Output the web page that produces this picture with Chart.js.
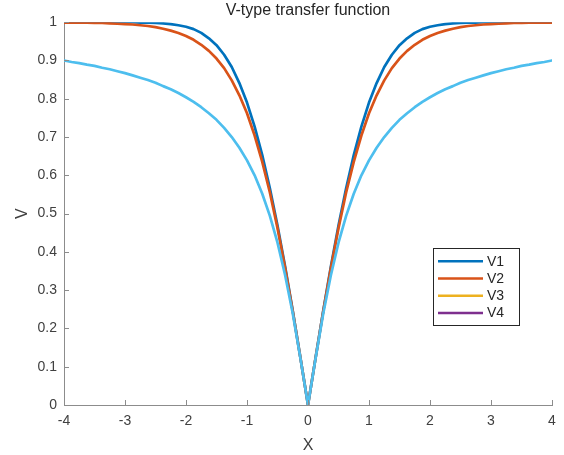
<!DOCTYPE html>
<html>
<head>
<meta charset="utf-8">
<script src="https://cdn.jsdelivr.net/npm/chart.js@4"></script>
<style>
  html, body { margin: 0; padding: 0; background: #fff; }
</style>
</head>
<body>
<canvas id="chartCanvas" width="564" height="455"></canvas>
<script>
// x positions, -4 .. 4 step 0.125
const xValues = [-4, -3.875, -3.75, -3.625, -3.5, -3.375, -3.25, -3.125, -3, -2.875, -2.75, -2.625, -2.5, -2.375, -2.25, -2.125,
  -2, -1.875, -1.75, -1.625, -1.5, -1.375, -1.25, -1.125, -1, -0.875, -0.75, -0.625, -0.5, -0.375, -0.25, -0.125,
  0, 0.125, 0.25, 0.375, 0.5, 0.625, 0.75, 0.875, 1, 1.125, 1.25, 1.375, 1.5, 1.625, 1.75, 1.875,
  2, 2.125, 2.25, 2.375, 2.5, 2.625, 2.75, 2.875, 3, 3.125, 3.25, 3.375, 3.5, 3.625, 3.75, 3.875, 4];

const v1Values = [1, 1, 1, 1, 1, 1, 1, 1, 1, 1, 0.999, 0.999, 0.998, 0.997, 0.995, 0.992,
  0.988, 0.982, 0.972, 0.958, 0.940, 0.915, 0.883, 0.841, 0.790, 0.727, 0.653, 0.566, 0.469, 0.362, 0.246, 0.124,
  0, 0.124, 0.246, 0.362, 0.469, 0.566, 0.653, 0.727, 0.790, 0.841, 0.883, 0.915, 0.940, 0.958, 0.972, 0.982,
  0.988, 0.992, 0.995, 0.997, 0.998, 0.999, 0.999, 1, 1, 1, 1, 1, 1, 1, 1, 1, 1];

const v2Values = [0.999, 0.999, 0.999, 0.999, 0.998, 0.998, 0.997, 0.996, 0.995, 0.994, 0.992, 0.990, 0.987, 0.983, 0.978, 0.972,
  0.964, 0.954, 0.941, 0.925, 0.905, 0.880, 0.848, 0.809, 0.762, 0.704, 0.635, 0.555, 0.462, 0.358, 0.245, 0.124,
  0, 0.124, 0.245, 0.358, 0.462, 0.555, 0.635, 0.704, 0.762, 0.809, 0.848, 0.880, 0.905, 0.925, 0.941, 0.954,
  0.964, 0.972, 0.978, 0.983, 0.987, 0.990, 0.992, 0.994, 0.995, 0.996, 0.997, 0.998, 0.998, 0.999, 0.999, 0.999, 0.999];

// light blue curve (not in the legend)
const lightValues = [0.900, 0.896, 0.893, 0.889, 0.886, 0.881, 0.877, 0.872, 0.867, 0.861, 0.855, 0.849, 0.842, 0.833, 0.825, 0.815,
  0.804, 0.792, 0.778, 0.762, 0.745, 0.724, 0.700, 0.672, 0.639, 0.600, 0.552, 0.494, 0.424, 0.339, 0.239, 0.123,
  0, 0.123, 0.239, 0.339, 0.424, 0.494, 0.552, 0.600, 0.639, 0.672, 0.700, 0.724, 0.745, 0.762, 0.778, 0.792,
  0.804, 0.815, 0.825, 0.833, 0.842, 0.849, 0.855, 0.861, 0.867, 0.872, 0.877, 0.881, 0.886, 0.889, 0.893, 0.896, 0.900];

const xTicks = [-4, -3, -2, -1, 0, 1, 2, 3, 4];
const yTicks = [0, 0.1, 0.2, 0.3, 0.4, 0.5, 0.6, 0.7, 0.8, 0.9, 1];

const toPoints = vals => vals.map((v, i) => ({ x: xValues[i], y: v }));

const axisGray = '#8c8c8c';
const textGray = '#404040';
const fontFamily = '"Liberation Sans", Arial, sans-serif';

const inwardTicks = {
  id: 'inwardTicks',
  afterDatasetsDraw(chart) {
    const { ctx, chartArea, scales } = chart;
    ctx.save();
    ctx.strokeStyle = axisGray;
    ctx.lineWidth = 1;
    xTicks.forEach(v => {
      const px = Math.round(scales.x.getPixelForValue(v)) + 0.5;
      ctx.beginPath();
      ctx.moveTo(px, chartArea.bottom);
      ctx.lineTo(px, chartArea.bottom - 5);
      ctx.stroke();
    });
    yTicks.forEach(v => {
      const py = Math.round(scales.y.getPixelForValue(v)) + 0.5;
      ctx.beginPath();
      ctx.moveTo(chartArea.left, py);
      ctx.lineTo(chartArea.left + 5, py);
      ctx.stroke();
    });
    ctx.restore();
  }
};

const boxLegend = {
  id: 'boxLegend',
  afterDraw(chart) {
    const { ctx, chartArea } = chart;
    const items = chart.data.datasets.filter(d => d.inLegend);
    const w = 86, h = 77, rowH = 17.3;
    const x0 = Math.round(chartArea.right - 33 - w) + 0.5;
    const y0 = Math.round(chartArea.top + 226) + 0.5;
    ctx.save();
    ctx.fillStyle = '#fff';
    ctx.fillRect(x0, y0, w, h);
    ctx.strokeStyle = '#262626';
    ctx.lineWidth = 1;
    ctx.strokeRect(x0, y0, w, h);
    ctx.font = '14px ' + fontFamily;
    ctx.textBaseline = 'middle';
    ctx.textAlign = 'left';
    items.forEach((d, i) => {
      const y = y0 + 12.7 + i * rowH;
      ctx.strokeStyle = d.borderColor;
      ctx.lineWidth = 2.5;
      ctx.beginPath();
      ctx.moveTo(x0 + 4.5, y);
      ctx.lineTo(x0 + 49.5, y);
      ctx.stroke();
      ctx.fillStyle = '#262626';
      ctx.fillText(d.label, x0 + 53.5, y + 0.5);
    });
    ctx.restore();
  }
};

const ctx = document.getElementById('chartCanvas').getContext('2d');
const chart = new Chart(ctx, {
  type: 'line',
  data: {
    datasets: [
      { label: 'V1', data: toPoints(v1Values), borderColor: '#0072BD', inLegend: true, order: 4 },
      { label: 'V2', data: toPoints(v2Values), borderColor: '#D95319', inLegend: true, order: 3 },
      { label: 'V3', data: [], borderColor: '#EDB120', inLegend: true, order: 2 },
      { label: 'V4', data: [], borderColor: '#7E2F8E', inLegend: true, order: 1 },
      { label: '', data: toPoints(lightValues), borderColor: '#4DBEEE', inLegend: false, order: 0 }
    ]
  },
  options: {
    responsive: false,
    animation: false,
    layout: { padding: { left: 0, right: 12, top: 0, bottom: 0 } },
    elements: {
      line: { borderWidth: 2.7, tension: 0, fill: false, borderJoinStyle: 'round', borderCapStyle: 'round' },
      point: { radius: 0 }
    },
    plugins: {
      legend: { display: false },
      tooltip: { enabled: false },
      title: {
        display: true,
        fullSize: false,
        text: 'V-type transfer function',
        color: '#262626',
        font: { family: fontFamily, size: 16, weight: 'normal' },
        padding: { top: 1, bottom: 2 }
      }
    },
    scales: {
      x: {
        type: 'linear',
        min: -4,
        max: 4,
        afterFit(scale) { scale.height = 50; },
        afterBuildTicks(scale) { scale.ticks = xTicks.map(v => ({ value: v })); },
        grid: { display: false, drawTicks: false },
        border: { display: true, color: axisGray, width: 1 },
        ticks: {
          color: textGray,
          padding: 8,
          font: { family: fontFamily, size: 14 }
        },
        title: {
          display: true,
          text: 'X',
          color: textGray,
          font: { family: fontFamily, size: 16 },
          padding: { top: 0, bottom: 0 }
        }
      },
      y: {
        min: 0,
        max: 1,
        afterFit(scale) { scale.width = 64; },
        afterBuildTicks(scale) { scale.ticks = yTicks.map(v => ({ value: v })); },
        grid: { display: false, drawTicks: false },
        border: { display: true, color: axisGray, width: 1 },
        ticks: {
          color: textGray,
          padding: 7,
          font: { family: fontFamily, size: 14 },
          callback: v => String(Math.round(v * 10) / 10)
        },
        title: {
          display: true,
          text: 'V',
          color: textGray,
          font: { family: fontFamily, size: 16 },
          padding: { top: 13, bottom: 0 }
        }
      }
    }
  },
  plugins: [inwardTicks, boxLegend]
});
</script>
</body>
</html>
